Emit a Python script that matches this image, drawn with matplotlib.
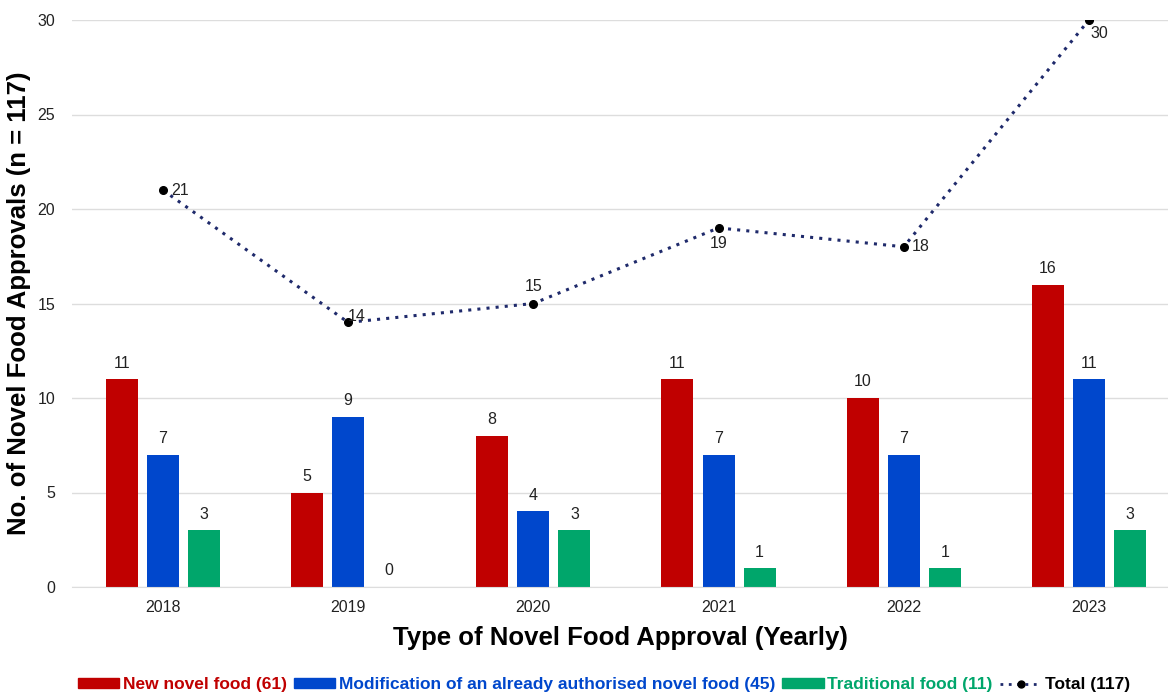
import numpy as np
import matplotlib.pyplot as plt
from matplotlib.patches import Patch
from matplotlib.lines import Line2D

plt.rcParams['font.family'] = ['Liberation Sans', 'DejaVu Sans']

years = ['2018', '2019', '2020', '2021', '2022', '2023']
new_food = [11, 5, 8, 11, 10, 16]
modification = [7, 9, 4, 7, 7, 11]
traditional = [3, 0, 3, 1, 1, 3]
total = [21, 14, 15, 19, 18, 30]

series_names = ['New novel food (61)',
                'Modification of an already authorised novel food (45)',
                'Traditional food (11)']
colors = ['#c00000', '#0047cc', '#00a66b']
line_color = '#1f2a6b'

fig = plt.figure(figsize=(11.68, 6.94), dpi=100)
ax = fig.add_axes([72 / 1168, 1 - 587 / 694, 1096 / 1168, 567 / 694])

x = np.arange(len(years))
width = 0.173
step = 0.222
for i, (vals, c) in enumerate(zip([new_food, modification, traditional], colors)):
    pos = x + (i - 1) * step
    ax.bar(pos, vals, width, color=c, zorder=2)
    for px, v in zip(pos, vals):
        ax.text(px, v + 0.45, str(v), ha='center', va='bottom', fontsize=11.5, color='#222222')

ax.plot(x, total, linestyle=(0, (1, 2)), color=line_color, linewidth=2.2, zorder=3)
ax.plot(x, total, 'o', color='black', markersize=5.5, zorder=4)

# label offsets for the total line (points)
offsets = [(6, 0, 'left', 'center'), (0, -1, 'left', 'bottom'), (0, 7, 'center', 'bottom'),
           (0, -6, 'center', 'top'), (6, 0, 'left', 'center'), (1, -4, 'left', 'top')]
for xi, v, (dx, dy, ha, va) in zip(x, total, offsets):
    ax.annotate(str(v), (xi, v), xytext=(dx, dy), textcoords='offset points',
                ha=ha, va=va, fontsize=11.5, color='#222222', zorder=5)

ax.set_ylim(0, 30)
ax.set_xlim(-0.491, 5.427)
ax.set_yticks(range(0, 31, 5))
ax.set_xticks(x)
ax.set_xticklabels(years)
ax.tick_params(axis='both', length=0, labelsize=11.5, colors='#222222')
ax.tick_params(axis='y', pad=12)
ax.tick_params(axis='x', pad=9)
ax.grid(axis='y', color='#dddddd', linewidth=1, zorder=0)
ax.set_axisbelow(True)
for s in ax.spines.values():
    s.set_visible(False)
ax.spines['bottom'].set_visible(True)
ax.spines['bottom'].set_color('#dddddd')

ax.set_xlabel('Type of Novel Food Approval (Yearly)', fontsize=18.5, fontweight='bold', labelpad=8)
ax.set_ylabel('No. of Novel Food Approvals (n = 117)', fontsize=18.5, fontweight='bold', labelpad=5)

handles = [Patch(color=c) for c in colors]
handles.append(Line2D([0], [0], linestyle=(0, (1, 2)), color=line_color, linewidth=2,
                      marker='o', markersize=5, markerfacecolor='black', markeredgecolor='black'))
leg = fig.legend(handles, series_names + ['Total (117)'], loc='lower center',
                 bbox_to_anchor=(0.517, -0.02), ncol=4, frameon=False,
                 handlelength=2.4, handleheight=0.5, handletextpad=0.2, columnspacing=0.4,
                 prop={'weight': 'bold', 'size': 12.5})
for t, c in zip(leg.get_texts(), colors + ['black']):
    t.set_color(c)

fig.savefig('out.png', dpi=100)
